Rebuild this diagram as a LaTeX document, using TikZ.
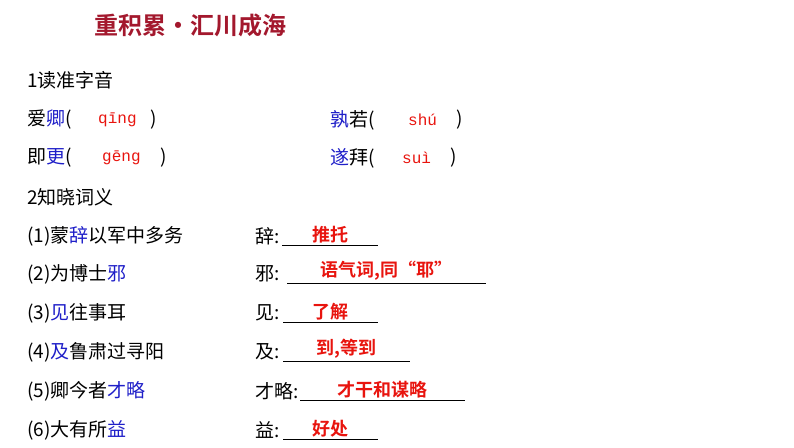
\documentclass[tikz,border=0pt]{standalone}
\usepackage{fontspec}
\usetikzlibrary{calc}
\setmainfont{Liberation Serif}
\newfontfamily\cjk{Noto Sans CJK SC}
\newfontfamily\cjkb{Noto Sans CJK SC Bold}
\newfontfamily\pym{Liberation Mono}
\definecolor{tred}{HTML}{A3182D}
\definecolor{bl}{HTML}{1F1FC8}
\definecolor{ans}{HTML}{E8140E}
\tikzset{
 t/.style={anchor=west,inner sep=0pt,font=\fontsize{19}{19}\selectfont\cjk},
 py/.style={anchor=west,inner sep=0pt,text=ans,font=\fontsize{16}{16}\selectfont\pym},
 an/.style={anchor=south,inner sep=0pt,text=ans,font=\fontsize{18}{18}\selectfont\cjkb},
 ul/.style={line width=0.9pt}
}
\newcommand\B[1]{\textcolor{bl}{#1}}
\begin{document}
\begin{tikzpicture}[x=1pt,y=-1pt]
\useasboundingbox (0,0) rectangle (794,447);
\node[anchor=west,inner sep=0pt,text=tred,font=\fontsize{24}{24}\selectfont\cjkb] (title) at (94,25) {重积累·汇川成海};
\node[t] (h1) at (27,80) {1读准字音};
\node[t] (a1) at (27,120) {爱\B{卿}(};
\node[py] (p1) at (98,120) {qīng};
\node[t] (c1) at (150,120) {)};
\node[t] (a2) at (330,120) {\B{孰}若(};
\node[py] (p2) at (408,120) {shú};
\node[t] (c2) at (456,120) {)};
\node[t] (a3) at (27,158) {即\B{更}(};
\node[py] (p3) at (102,158) {gēng};
\node[t] (c3) at (160,158) {)};
\node[t] (a4) at (330,158) {\B{遂}拜(};
\node[py] (p4) at (402,158) {suì};
\node[t] (c4) at (450,158) {)};
\node[t] (h2) at (27,197) {2知晓词义};
\foreach \y/\l/\r/\x/\e/\a/\n in {
 236/{(1)蒙\B{辞}以军中多务}/辞:/282/378/推托/q1,
 274/{(2)为博士\B{邪}}/邪:/287/486/{语气词,同“耶”}/q2,
 313/{(3)\B{见}往事耳}/见:/283/378/了解/q3,
 352/{(4)\B{及}鲁肃过寻阳}/及:/283/410/{到,等到}/q4,
 391/{(5)卿今者\B{才略}}/才略:/300/465/才干和谋略/q5,
 430/{(6)大有所\B{益}}/益:/283/378/好处/q6}{
 \node[t] (\n l) at (27,\y) {\l};
 \node[t] (\n r) at (255,\y) {\r};
 \coordinate (\n s) at (\x,\y+9);
 \coordinate (\n e) at (\e,\y+9);
 \draw[ul] (\n s) -- (\n e);
 \node[an] (\n a) at ($(\n s)!0.5!(\n e)+(0,-2)$) {\a};
}
\end{tikzpicture}
\end{document}
